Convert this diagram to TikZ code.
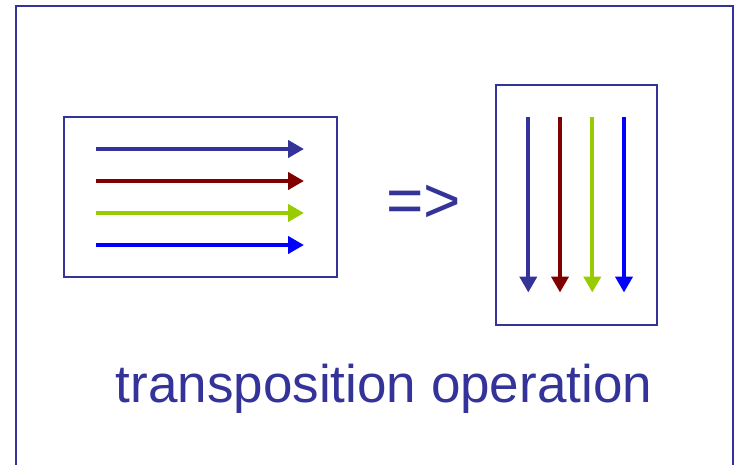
\documentclass[tikz,border=0pt]{standalone}
\usepackage{fontspec}
\setmainfont{Liberation Sans}
\usetikzlibrary{arrows.meta}
\definecolor{navy}{HTML}{333399}
\definecolor{maroon}{HTML}{800000}
\definecolor{lime}{HTML}{99CC00}
\definecolor{pureblue}{HTML}{0000FF}
\tikzset{
  frame/.style={draw=navy, line width=2pt},
  panel/.style={draw=navy, line width=1.8pt, fill=white, inner sep=0pt},
  flow/.style={line width=4pt, -{Triangle[length=16pt,width=17pt]}},
  label/.style={text=navy, inner sep=0pt}
}
\begin{document}
\begin{tikzpicture}[x=1pt, y=-1pt]
  \useasboundingbox (0,0) rectangle (736,465);
  % outer frame, open at the bottom
  \draw[frame] (15.5,466) -- (15.5,6.5) -- (732.7,6.5) -- (732.7,466);

  % left panel: rows
  \node[panel, minimum width=273pt, minimum height=160pt] (rows) at (200.5,197) {};
  \foreach \c/\y/\n in {navy/149/a, maroon/181/b, lime/213/c, pureblue/245/d} {
    \coordinate (r\n s) at (96,\y);
    \coordinate (r\n e) at (304,\y);
    \draw[flow, \c] (r\n s) -- (r\n e);
  }

  % right panel: columns
  \node[panel, minimum width=161pt, minimum height=240pt] (cols) at (576.5,205) {};
  \foreach \c/\x/\n in {navy/528.3/a, maroon/560/b, lime/592.3/c, pureblue/624/d} {
    \coordinate (c\n s) at (\x,117);
    \coordinate (c\n e) at (\x,292.5);
    \draw[flow, \c] (c\n s) -- (c\n e);
  }

  % implication sign between the panels
  \node[label, font=\fontsize{64}{64}\selectfont] (imp) at (423.5,204) {=>};

  % caption
  \node[label, anchor=base, font=\fontsize{53}{60}\selectfont] (caption) at (384,402) {transposition operation};
\end{tikzpicture}
\end{document}
